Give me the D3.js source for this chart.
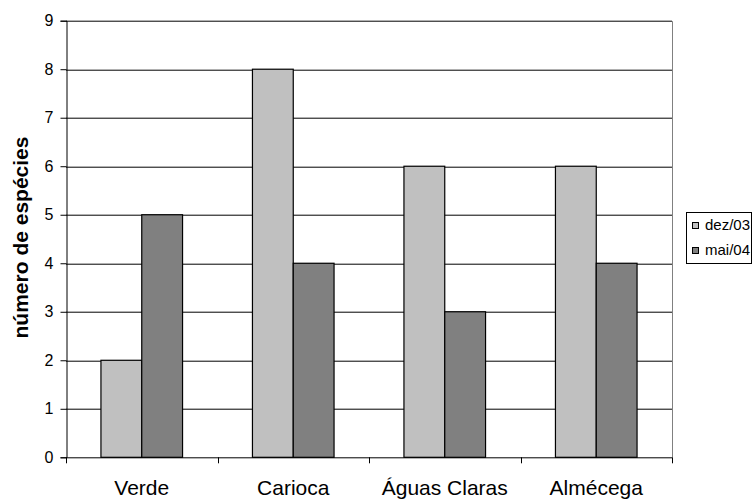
<!DOCTYPE html>
<html>
<head>
<meta charset="utf-8">
<script src="https://cdn.jsdelivr.net/npm/d3@7"></script>
<style>
  html, body { margin: 0; padding: 0; background: #fff; }
  svg { display: block; font-family: "Liberation Sans", Arial, sans-serif; }
</style>
</head>
<body>
<svg id="chart" width="753" height="500"></svg>
<script>
// Species counts per stream, two sampling campaigns
const categories = ["Verde", "Carioca", "Águas Claras", "Almécega"];
const seriesNames = ["dez/03", "mai/04"];
const dez03 = [2, 8, 6, 6];
const mai04 = [5, 4, 3, 4];
const yTicks = [0, 1, 2, 3, 4, 5, 6, 7, 8, 9];
const colors = ["#c0c0c0", "#808080"];

const svg = d3.select("#chart");
const margin = { left: 66, right: 81, top: 20.7, bottom: 42.7 };
const W = 753, H = 500;
const plotW = W - margin.left - margin.right;
const plotH = H - margin.top - margin.bottom;

const x = d3.scaleBand().domain(categories).range([0, plotW]).paddingInner(0).paddingOuter(0);
const xSub = d3.scaleBand().domain(seriesNames).range([0, 81.6]);
const y = d3.scaleLinear().domain([0, 9]).range([plotH, 0]);

const g = svg.append("g").attr("transform", `translate(${margin.left},${margin.top})`);

// horizontal gridlines
g.selectAll(".grid").data(yTicks.filter(d => d > 0)).join("line")
  .attr("x1", 0).attr("x2", plotW)
  .attr("y1", d => Math.round(y(d)) + 0.5).attr("y2", d => Math.round(y(d)) + 0.5)
  .attr("stroke", "#000").attr("stroke-width", 1);

// right frame edge
g.append("line")
  .attr("x1", plotW + 0.5).attr("x2", plotW + 0.5)
  .attr("y1", Math.round(y(9)) + 0.5).attr("y2", y(0))
  .attr("stroke", "#808080");

// bars
const data = categories.map((c, i) => ({ cat: c, vals: [dez03[i], mai04[i]] }));
const groups = g.selectAll(".grp").data(data).join("g")
  .attr("transform", d => `translate(${x(d.cat) + (x.bandwidth() - 81.6) / 2},0)`);
groups.selectAll("rect").data(d => d.vals.map((v, k) => ({ k, v }))).join("rect")
  .attr("x", d => xSub(seriesNames[d.k]))
  .attr("width", xSub.bandwidth())
  .attr("y", d => y(d.v))
  .attr("height", d => y(0) - y(d.v))
  .attr("fill", d => colors[d.k])
  .attr("stroke", "#000").attr("stroke-width", 1.2);

// y axis
const yAxis = g.append("g").attr("transform", "translate(0.5,0)")
  .call(d3.axisLeft(y).tickValues(yTicks).tickSize(6).tickPadding(7).tickFormat(d3.format("d")));
yAxis.select(".domain").attr("stroke", "#000");
yAxis.selectAll(".tick line").attr("stroke", "#000");
yAxis.selectAll(".tick text").attr("font-size", 16).attr("fill", "#000")
  .attr("font-family", "'Liberation Sans', Arial, sans-serif");

// x axis: ticks at category boundaries
const xAxisG = g.append("g").attr("transform", `translate(0,${plotH})`);
xAxisG.append("line").attr("x1", 0).attr("x2", plotW).attr("y1", 0.5).attr("y2", 0.5).attr("stroke", "#000");
const boundaries = d3.range(categories.length + 1).map(i => i * x.step());
xAxisG.selectAll(".xt").data(boundaries).join("line")
  .attr("x1", d => Math.round(d) + 0.5).attr("x2", d => Math.round(d) + 0.5)
  .attr("y1", 0).attr("y2", 6).attr("stroke", "#000");
xAxisG.selectAll(".xl").data(categories).join("text")
  .attr("x", d => x(d) + x.bandwidth() / 2)
  .attr("y", 37.7)
  .attr("text-anchor", "middle")
  .attr("font-size", 21)
  .text(d => d);

// y axis title
svg.append("text")
  .attr("transform", `translate(28,237.5) rotate(-90)`)
  .attr("text-anchor", "middle")
  .attr("font-size", 21).attr("font-weight", "bold")
  .text("número de espécies");

// legend
const lg = svg.append("g").attr("transform", "translate(686.5,212.5)");
lg.append("rect").attr("width", 65).attr("height", 51).attr("fill", "#fff").attr("stroke", "#000");
seriesNames.forEach((s, i) => {
  const yy = 13.5 + i * 25;
  lg.append("rect").attr("x", 6).attr("y", yy - 3.5).attr("width", 6).attr("height", 6)
    .attr("fill", colors[i]).attr("stroke", "#000");
  lg.append("text").attr("x", 18.5).attr("y", yy + 4).attr("font-size", 15).text(s);
});
</script>
</body>
</html>
